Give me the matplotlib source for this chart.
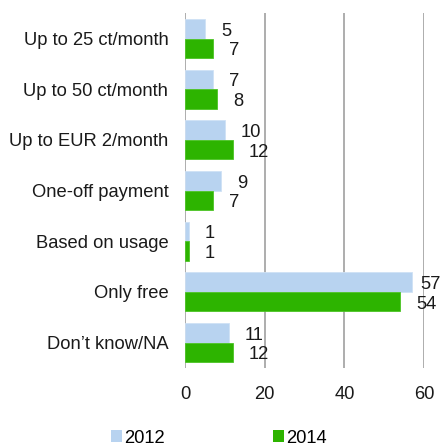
import matplotlib
matplotlib.use("Agg")
import matplotlib.pyplot as plt
from matplotlib.patches import Patch
import numpy as np

plt.rcParams['font.family'] = ['Liberation Sans', 'DejaVu Sans']

categories = ["Up to 25 ct/month", "Up to 50 ct/month", "Up to EUR 2/month",
              "One-off payment", "Based on usage", "Only free", "Don\u2019t know/NA"]
values_2012 = [5, 7, 10, 9, 1, 57, 11]
values_2014 = [7, 8, 12, 7, 1, 54, 12]
ticks = [0, 20, 40, 60]

c2012 = "#b8d3f0"
c2014 = "#2db400"
fs = 13.2

fig = plt.figure(figsize=(4.42, 4.48), dpi=100)
ax = fig.add_axes([0.4186, 0.1786, 0.541, 0.792])

n = len(categories)
y = np.arange(n)
h = 0.385
ax.barh(y - h / 2, values_2012, height=h, color=c2012, edgecolor="#cfe1f5", linewidth=0.6, zorder=3)
ax.barh(y + h / 2, values_2014, height=h, color=c2014, edgecolor="#4cc425", linewidth=0.6, zorder=3)

labels = []
for yi, v in zip(y, values_2012):
    labels.append(ax.annotate(str(v), (v, yi - h / 2), xytext=(11.5, -1.7), textcoords="offset points",
                              ha="left", va="center", fontsize=fs, color="#1a1a1a",
                              annotation_clip=False))
for yi, v in zip(y, values_2014):
    labels.append(ax.annotate(str(v), (v, yi + h / 2), xytext=(11.5, -1.7), textcoords="offset points",
                              ha="left", va="center", fontsize=fs, color="#1a1a1a",
                              annotation_clip=False))

ax.set_ylim(n - 0.5, -0.5)
ax.set_xlim(0, 60)
ax.set_xticks(ticks)
ax.set_xticklabels([str(t) for t in ticks], fontsize=fs, color="#1a1a1a")
ax.set_yticks(y)
ax.set_yticklabels(categories, fontsize=fs, color="#1a1a1a")
ax.tick_params(axis="both", length=0)
ax.tick_params(axis="x", pad=13)
ax.tick_params(axis="y", pad=12)
for s in ax.spines.values():
    s.set_visible(False)
ax.grid(axis="x", color="#a0a0a0", linewidth=1.2, zorder=0)
ax.set_axisbelow(True)

handles = [Patch(facecolor=c2012, edgecolor="none", label="2012"),
           Patch(facecolor=c2014, edgecolor="none", label="2014")]
fig.legend(handles=handles, loc="center", bbox_to_anchor=(0.495, 0.022), ncol=2,
           frameon=False, fontsize=fs, handlelength=0.6, handleheight=0.6,
           handletextpad=0.1, columnspacing=5.9)

# keep value labels inside the figure edge
fig.canvas.draw()
renderer = fig.canvas.get_renderer()
fig_w = fig.bbox.width
for t in labels:
    bb = t.get_window_extent(renderer)
    if bb.x1 > fig_w - 1:
        shift_pt = (bb.x1 - (fig_w - 1)) * 72.0 / fig.dpi
        x0, y0 = t.xyann
        t.xyann = (x0 - shift_pt, y0)

fig.savefig("out.png", dpi=100)
